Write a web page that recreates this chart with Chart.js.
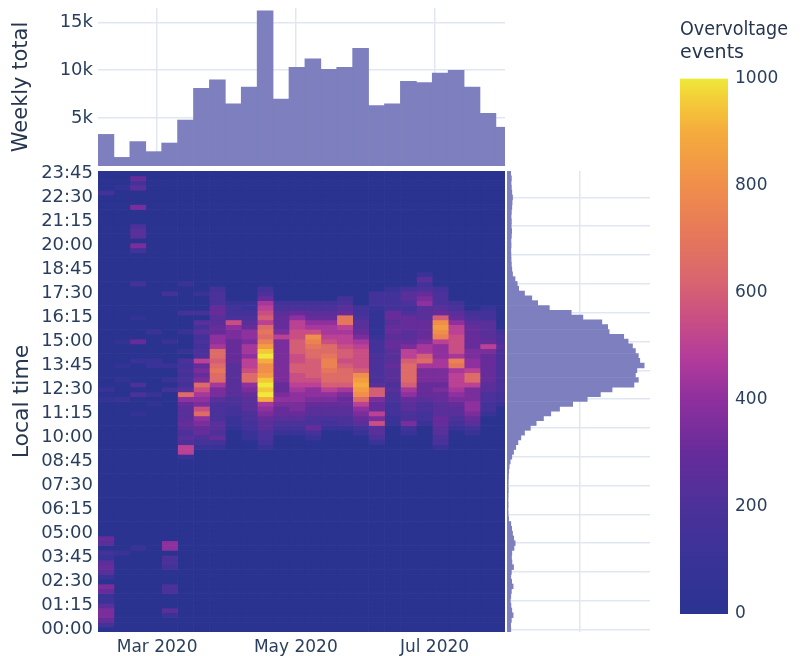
<!DOCTYPE html>
<html>
<head>
<meta charset="utf-8">
<title>Overvoltage events</title>
<script src="https://cdn.jsdelivr.net/npm/chart.js@4.4.1/dist/chart.umd.min.js"></script>
<style>
  html, body { margin: 0; padding: 0; background: #fff; }
  #wrap { position: relative; width: 802px; height: 656px; overflow: hidden; }
  #wrap canvas { position: absolute; left: 0; top: 0; }
</style>
</head>
<body>
<div id="wrap">
  <canvas id="topHist" width="802" height="656"></canvas>
  <canvas id="heat" width="802" height="656"></canvas>
  <canvas id="sideHist" width="802" height="656"></canvas>
  <canvas id="colorBar" width="802" height="656"></canvas>
</div>
<script>
// weekly bins
var WEEK_STARTS = ['2020-02-04', '2020-02-11', '2020-02-18', '2020-02-25', '2020-03-03', '2020-03-10',
  '2020-03-17', '2020-03-24', '2020-03-31', '2020-04-07', '2020-04-14', '2020-04-21', '2020-04-28',
  '2020-05-05', '2020-05-12', '2020-05-19', '2020-05-26', '2020-06-02', '2020-06-09', '2020-06-16',
  '2020-06-23', '2020-06-30', '2020-07-07', '2020-07-14', '2020-07-21', '2020-07-28'];
var DATA_END = '2020-08-01';
var WEEKLY_TOTAL = [3300, 900, 2550, 1500, 2400, 4800, 8100, 9000, 6500, 8250, 16200, 7000, 10300,
  11200, 10100, 10300, 12300, 6300, 6500, 8850, 8700, 9700, 10000, 8250, 5500, 4050];
var WEEKLY_TICKS = [5000, 10000, 15000];

var MONTH_TICK_DATES = ['2020-03-01', '2020-05-01', '2020-07-01'];
var MONTH_TICK_LABELS = ['Mar 2020', 'May 2020', 'Jul 2020'];

var TIME_TICK_LABELS = ['00:00', '01:15', '02:30', '03:45', '05:00', '06:15', '07:30', '08:45', '10:00',
  '11:15', '12:30', '13:45', '15:00', '16:15', '17:30', '18:45', '20:00', '21:15', '22:30', '23:45'];

// total events per 15 min slot, 00:00 first
var SLOT_TOTAL = [260, 250, 300, 420, 330, 270, 230, 260, 300, 420,
  320, 260, 300, 450, 340, 310, 330, 480, 560, 460,
  380, 320, 260, 110, 80, 70, 80, 70, 80, 90,
  80, 90, 100, 120, 150, 220, 330, 450, 600, 750,
  950, 1200, 1600, 2000, 2500, 3000, 3600, 4500, 5500, 6400,
  7200, 8700, 9000, 8800, 8900, 9400, 9100, 9000, 8800, 8600,
  8300, 8000, 7000, 6900, 6500, 5200, 4400, 2900, 2100, 1700,
  1200, 800, 700, 550, 380, 330, 300, 280, 270, 260,
  280, 270, 300, 320, 290, 300, 280, 300, 330, 350,
  380, 330, 300, 280, 300, 250];
var SLOT_TICK = 5000;

// events per week and slot: one row per slot (23:45 first, 00:00 last), one char per week
// char value = parseInt(c, 36) * 50  ('0' = 0, 'a' = 500, 'k' = 1000)
var HEAT_ROWS = [
  '00000000000000000000000000', // 23:45
  '00600000000000000000000000',
  '00300000000000000000000000',
  '01500000000000000000000000',
  '30000000000000000000000000',
  '00000000000000000000000000', // 22:30
  '00000000000000000000000000',
  '00700000000000000000000000',
  '00000000000000000000000000',
  '00000000000000000000000000',
  '00000000000000000000000000', // 21:15
  '00400000000000000000000000',
  '00500000000000000000000000',
  '00500000000000000000000000',
  '00000000000000000000000000',
  '00700000000000000000000000', // 20:00
  '00300000000000000000000000',
  '00000000000000000000000000',
  '00000000000000000000000000',
  '00000000000000000000000000',
  '00000000000000000000000000', // 18:45
  '00000000000000000000200000',
  '00000000000000000000500000',
  '00300200000000000000300000',
  '00000003003000000023430000',
  '00003024004000000335640000', // 17:30
  '00000004006000030335740000',
  '00000004229333340334843000',
  '0000000632a444453233554020',
  '0000033633b565563164565330',
  '0010000544c6866e41665c6430', // 16:15
  '00000055b5a6a88e51566g8550',
  '0000003686d6a99a51666ha650',
  '0002025678e7bb9961656ga653',
  '0000003878dabgaa72556fb654',
  '0160204867f7cfba93667ab664', // 15:00
  '0000003969h7cedba36798b6a5',
  '0000024d69j7cddcb35a98b774',
  '0000004d68k7bdecb45ac89764',
  '002204ac6ai7bcfbb45cd9f864',
  '0102236d5ag7ccfcb46d99e864', // 13:45
  '0000047e5bg7ccedc45d779a64',
  '0000036d5dh7bcddg45d77ad64',
  '0100247d5dj7bbddh45d77ad64',
  '004003d958k6aacci54c66aa54',
  '200035b757j698a9hc59679754', // 12:30
  '00420d9756k78887gc48668743',
  '1200088545i88776d746567743',
  '0001067445977666a635456832',
  '000005b4358675558635455830',
  '001005d4347665557a34355720', // 11:15
  '00000584246554446724364600',
  '00000675235444345b27263500',
  '00000565135336223503052300',
  '00000464024223002502050200',
  '00000546024002000400040000', // 10:00
  '00000433003000000200040000',
  '00000a22002000000000020000',
  '00000a00000000000000000000',
  '00000200000000000000000000',
  '00000000000000000000000000', // 08:45
  '00000000000000000000000000',
  '00000000000000000000000000',
  '00000000000000000000000000',
  '00000000000000000000000000',
  '00000000000000000000000000', // 07:30
  '00000000000000000000000000',
  '00000000000000000000000000',
  '00000000000000000000000000',
  '00000000000000000000000000',
  '00000000000000000000000000', // 06:15
  '00000000000000000000000000',
  '00000000000000000000000000',
  '00000000000000000000000000',
  '00000000000000000000000000',
  '00000000000000000000000000', // 05:00
  '60000000000000000000000000',
  '50008000000000000000000000',
  '00208000000000000000000000',
  '32000000000000000000000000',
  '20004000000000000000000000', // 03:45
  '50004000000000000000000000',
  '60003000000000000000000000',
  '50000000000000000000000000',
  '20000000000000000000000000',
  '00000000000000000000000000', // 02:30
  '70004000000000000000000000',
  '60004000000000000000000000',
  '20000000000000000000000000',
  '20000000000000000000000000',
  '50000000000000000000000000', // 01:15
  '70005000000000000000000000',
  '70002000000000000000000000',
  '60000000000000000000000000',
  '30000000000000000000000000',
  '00000000000000000000000000'  // 00:00
];

var COLOR_STOPS = [[0, '#2b3391'], [0.1, '#393397'], [0.2, '#4b319a'], [0.3, '#662c9a'],
  [0.4, '#8e309e'], [0.48, '#b43c9a'], [0.55, '#c84e84'], [0.62, '#d86470'], [0.7, '#e5765c'],
  [0.8, '#f08e4b'], [0.9, '#f5ab3d'], [0.96, '#f4cc38'], [1, '#efe93a']];

var BAR_FILL = '#7d7fbe';
var GRID = '#e1e7f2';
var TEXT = '#2a3f5f';
var TITLE = '#263550';

Chart.defaults.font.family = "'DejaVu Sans', Verdana, sans-serif";
Chart.defaults.color = TEXT;
Chart.defaults.animation = false;
Chart.defaults.responsive = false;
Chart.defaults.plugins.legend.display = false;
Chart.defaults.plugins.tooltip.enabled = false;

function dayNum(iso) {
  return (Date.parse(iso) - Date.parse('2020-01-01')) / 86400000;
}
var weekDays = WEEK_STARTS.map(dayNum);
var endDay = dayNum(DATA_END);
var monthDays = MONTH_TICK_DATES.map(dayNum);

function cellValue(week, slot) {
  var row = HEAT_ROWS[HEAT_ROWS.length - 1 - slot];
  return parseInt(row.charAt(week), 36) * 50;
}

function hexToRgb(h) {
  return [parseInt(h.substr(1, 2), 16), parseInt(h.substr(3, 2), 16), parseInt(h.substr(5, 2), 16)];
}

function heatColor(v) {
  var t = Math.max(0, Math.min(1, v / 1000));
  for (var i = 1; i < COLOR_STOPS.length; i++) {
    if (t <= COLOR_STOPS[i][0]) {
      var a = COLOR_STOPS[i - 1], b = COLOR_STOPS[i];
      var f = (t - a[0]) / (b[0] - a[0]);
      var ca = hexToRgb(a[1]), cb = hexToRgb(b[1]);
      return 'rgb(' + Math.round(ca[0] + (cb[0] - ca[0]) * f) + ',' +
        Math.round(ca[1] + (cb[1] - ca[1]) * f) + ',' +
        Math.round(ca[2] + (cb[2] - ca[2]) * f) + ')';
    }
  }
  return COLOR_STOPS[COLOR_STOPS.length - 1][1];
}

// force axis box size so the panels line up
function fixSize(w, h) {
  return function (scale) {
    if (w !== null) scale.width = w;
    if (h !== null) scale.height = h;
    scale.paddingTop = 0;
    scale.paddingBottom = 0;
    scale.paddingLeft = 0;
    scale.paddingRight = 0;
  };
}

function monthTicks(scale) {
  scale.ticks = monthDays.map(function (d) { return { value: d }; });
}

// weekly total (top)
new Chart(document.getElementById('topHist'), {
  type: 'bar',
  data: {
    datasets: [{
      data: WEEKLY_TOTAL.map(function (v, i) { return { x: weekDays[i] + 3.5, y: v }; }),
      backgroundColor: BAR_FILL,
      borderWidth: 0,
      barPercentage: 1,
      categoryPercentage: 1,
      clip: 0
    }]
  },
  options: {
    layout: { padding: { left: 0, top: 8, right: 297, bottom: 490 } },
    scales: {
      x: {
        type: 'linear', min: weekDays[0], max: endDay, offset: false,
        grid: { color: GRID, lineWidth: 1.5, drawTicks: false, offset: false },
        border: { display: false },
        ticks: { display: false },
        afterBuildTicks: monthTicks,
        afterFit: fixSize(null, 0)
      },
      y: {
        type: 'linear', min: 0, max: 16500,
        grid: { color: GRID, lineWidth: 1.5, drawTicks: false },
        border: { display: false },
        ticks: {
          padding: 5, font: { size: 18 },
          callback: function (v) { return (v / 1000) + 'k'; }
        },
        afterBuildTicks: function (scale) {
          scale.ticks = WEEKLY_TICKS.map(function (v) { return { value: v }; });
        },
        title: {
          display: true, text: 'Weekly total', color: TITLE,
          font: { size: 21 }, padding: { top: 9, bottom: 0 }
        },
        afterFit: fixSize(98, null)
      }
    }
  }
});

// heatmap: one dataset per week, one floating bar per time slot
var heatSets = WEEK_STARTS.map(function (d, w) {
  var start = weekDays[w];
  var end = w + 1 < weekDays.length ? weekDays[w + 1] : endDay;
  var pts = [];
  for (var s = 0; s < HEAT_ROWS.length; s++) {
    pts.push({ y: s, x: [start, end] });
  }
  return {
    data: pts,
    grouped: false,
    borderWidth: 0,
    barPercentage: 1,
    categoryPercentage: 1,
    clip: 0,
    backgroundColor: function (ctx) {
      if (ctx.type !== 'data') return heatColor(0);
      return heatColor(cellValue(w, ctx.dataIndex));
    }
  };
});

new Chart(document.getElementById('heat'), {
  type: 'bar',
  data: { datasets: heatSets },
  options: {
    indexAxis: 'y',
    layout: { padding: { left: 0, top: 171, right: 297, bottom: 0 } },
    scales: {
      x: {
        type: 'linear', min: weekDays[0], max: endDay,
        grid: { display: false, drawTicks: false },
        border: { display: false },
        ticks: {
          padding: 5, font: { size: 17 }, maxRotation: 0, autoSkip: false,
          callback: function (v, i) { return MONTH_TICK_LABELS[i]; }
        },
        afterBuildTicks: monthTicks,
        afterFit: fixSize(null, 24)
      },
      y: {
        type: 'linear', min: -0.5, max: HEAT_ROWS.length - 0.5, offset: false,
        grid: { display: false, drawTicks: false, offset: false },
        border: { display: false },
        ticks: {
          padding: 5, font: { size: 18 }, autoSkip: false,
          callback: function (v, i) { return TIME_TICK_LABELS[i]; }
        },
        afterBuildTicks: function (scale) {
          scale.ticks = TIME_TICK_LABELS.map(function (l, i) { return { value: i * 5 }; });
        },
        title: {
          display: true, text: 'Local time', color: TITLE,
          font: { size: 22 }, padding: { top: 9, bottom: 0 }
        },
        afterFit: fixSize(98, null)
      }
    }
  }
});

// time of day totals (right)
new Chart(document.getElementById('sideHist'), {
  type: 'bar',
  data: {
    datasets: [{
      data: SLOT_TOTAL.map(function (v, s) { return { y: s, x: v }; }),
      backgroundColor: BAR_FILL,
      borderWidth: 0,
      barPercentage: 1,
      categoryPercentage: 1
    }]
  },
  options: {
    indexAxis: 'y',
    layout: { padding: { left: 507, top: 171, right: 152, bottom: 24 } },
    scales: {
      x: {
        type: 'linear', min: 0, max: 9800,
        grid: { color: GRID, lineWidth: 1.5, drawTicks: false },
        border: { display: false },
        ticks: { display: false },
        afterBuildTicks: function (scale) {
          scale.ticks = [{ value: SLOT_TICK }];
        },
        afterFit: fixSize(null, 0)
      },
      y: {
        type: 'linear', min: -0.5, max: SLOT_TOTAL.length - 0.5, offset: false,
        grid: { color: GRID, lineWidth: 1.5, drawTicks: false, offset: false },
        border: { display: false },
        ticks: { display: false },
        afterBuildTicks: function (scale) {
          var t = [];
          for (var s = 0; s < SLOT_TOTAL.length; s += 6) t.push({ value: s });
          scale.ticks = t;
        },
        afterFit: fixSize(0, null)
      }
    }
  }
});

// colour scale
new Chart(document.getElementById('colorBar'), {
  type: 'bar',
  data: {
    labels: ['events'],
    datasets: [{
      data: [[0, 1000]],
      borderWidth: 0,
      barPercentage: 1,
      categoryPercentage: 1,
      backgroundColor: function (ctx) {
        var chart = ctx.chart;
        if (!chart.chartArea) return COLOR_STOPS[0][1];
        var y = chart.scales.y;
        var g = chart.ctx.createLinearGradient(0, y.getPixelForValue(0), 0, y.getPixelForValue(1000));
        COLOR_STOPS.forEach(function (st) { g.addColorStop(st[0], st[1]); });
        return g;
      }
    }]
  },
  options: {
    layout: { padding: { left: 680, top: 10, right: 14, bottom: 42 } },
    plugins: {
      title: {
        display: true, text: ['Overvoltage', 'events'], align: 'start', color: TITLE,
        font: { size: 19, weight: 'normal' }, padding: { top: 9, bottom: 14 }
      }
    },
    scales: {
      x: { display: false },
      y: {
        position: 'right', min: 0, max: 1000,
        grid: { display: false, drawTicks: false },
        border: { display: false },
        ticks: {
          stepSize: 200, padding: 7, font: { size: 17 },
          callback: function (v) { return String(v); }
        },
        afterFit: fixSize(60, null)
      }
    }
  }
});
</script>
</body>
</html>
